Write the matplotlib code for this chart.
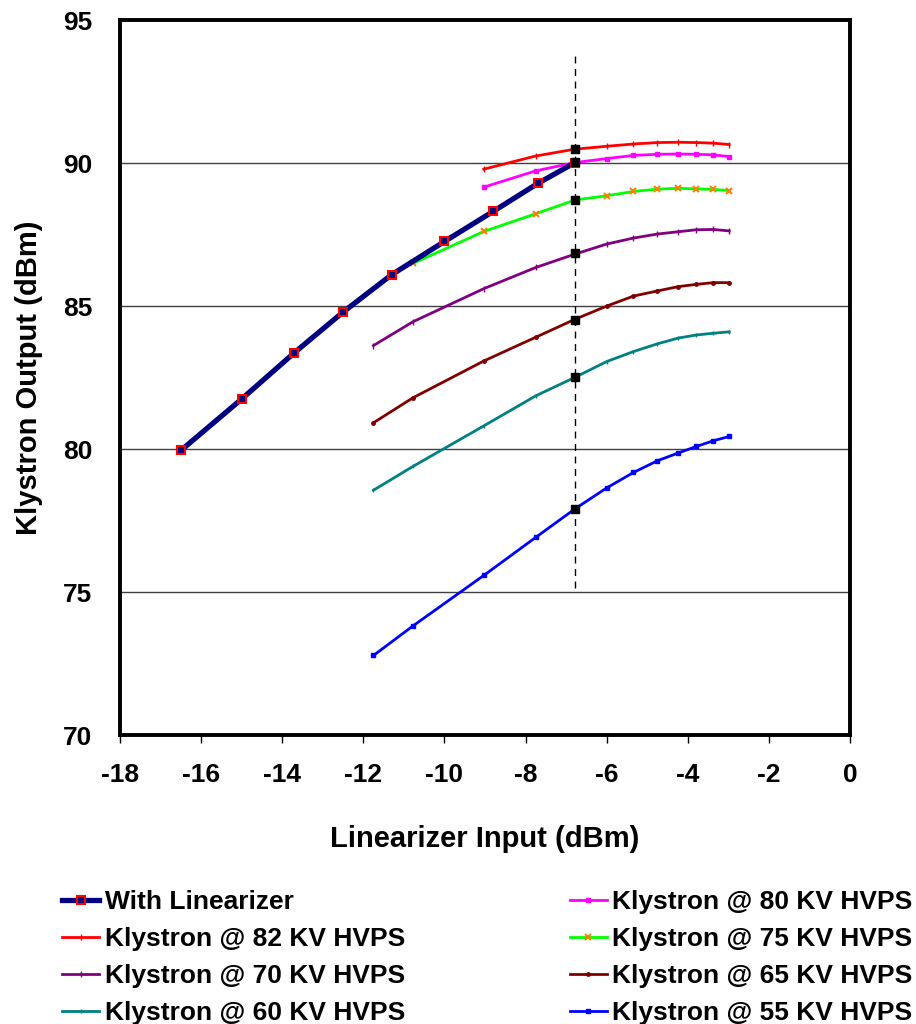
import matplotlib
matplotlib.use("Agg")
import matplotlib.pyplot as plt

plt.rcParams['font.family'] = ['Liberation Sans', 'DejaVu Sans']
plt.rcParams['font.weight'] = 'bold'
plt.rcParams['axes.unicode_minus'] = False

# with linearizer
lin_x = [-16.5, -15.0, -13.7, -12.5, -11.3, -10.0, -8.8, -7.7, -6.78]
lin_y = [79.96, 81.76, 83.38, 84.80, 86.11, 87.27, 88.32, 89.30, 90.03]

# klystron curves at various HVPS voltages
x_short = [-9.03, -7.75, -6.78, -6.0, -5.34, -4.75, -4.24, -3.79, -3.37, -2.98]
x_mid = [-10.78] + x_short
x_long = [-11.75] + x_mid

k82 = [89.80, 90.26, 90.50, 90.60, 90.68, 90.73, 90.74, 90.73, 90.71, 90.66]
k80 = [89.17, 89.74, 90.03, 90.17, 90.28, 90.32, 90.33, 90.32, 90.30, 90.24]
k75 = [86.50, 87.62, 88.24, 88.72, 88.87, 89.02, 89.10, 89.13, 89.11, 89.09, 89.05]
k70 = [83.63, 84.46, 85.62, 86.36, 86.83, 87.18, 87.39, 87.53, 87.61, 87.68, 87.69, 87.64]
k65 = [80.93, 81.80, 83.09, 83.92, 84.55, 85.01, 85.36, 85.54, 85.69, 85.77, 85.83, 85.83]
k60 = [78.57, 79.40, 80.82, 81.87, 82.52, 83.07, 83.42, 83.69, 83.89, 84.00, 84.06, 84.11]
k55 = [72.79, 73.82, 75.59, 76.92, 77.92, 78.65, 79.19, 79.60, 79.87, 80.10, 80.30, 80.45]

# operating point at -6.78 dBm input
op_x = -6.78
op_y = [90.5, 90.04, 88.72, 86.86, 84.52, 82.53, 77.93]
op_span = [75.15, 93.75]

fig = plt.figure(figsize=(9.16, 10.24), dpi=100)
ax = fig.add_axes([0.131, 0.282, 0.797, 0.698])

for yv in [75, 80, 85, 90]:
    ax.axhline(yv, color='#404040', lw=1.0, zorder=1)

h_lin, = ax.plot(lin_x, lin_y, color='#000080', lw=3.8, marker='s', ms=6,
                 mfc='#000080', mec='red', mew=1.5, label='With Linearizer', zorder=5)
h82, = ax.plot(x_short, k82, color='red', lw=2, marker='|', ms=4, label='Klystron @ 82 KV HVPS', zorder=3)
h80, = ax.plot(x_short, k80, color='#FF00FF', lw=2, marker='s', ms=3, label='Klystron @ 80 KV HVPS', zorder=3)
h75, = ax.plot(x_mid, k75, color='#00FF00', lw=2, marker='x', ms=4, mec='#FF8000', mew=1.5,
               label='Klystron @ 75 KV HVPS', zorder=3)
h70, = ax.plot(x_long, k70, color='#800080', lw=2, marker='|', ms=4, label='Klystron @ 70 KV HVPS', zorder=3)
h65, = ax.plot(x_long, k65, color='#800000', lw=2, marker='o', ms=2.5, label='Klystron @ 65 KV HVPS', zorder=3)
h60, = ax.plot(x_long, k60, color='#008080', lw=2, marker='|', ms=3, label='Klystron @ 60 KV HVPS', zorder=3)
h55, = ax.plot(x_long, k55, color='#0000FF', lw=2, marker='s', ms=2.5, label='Klystron @ 55 KV HVPS', zorder=3)

ax.plot([op_x, op_x], op_span, color='black', lw=1, dashes=(5, 4), zorder=4)
ax.plot([op_x] * len(op_y), op_y, ls='none', marker='s', ms=6, color='black', zorder=6)

ax.set_xlim(-18, 0)
ax.set_ylim(70, 95)
ax.set_xticks(range(-18, 1, 2))
ax.set_yticks(range(70, 96, 5))
for s in ax.spines.values():
    s.set_linewidth(2.8)
    s.set_color('black')
ax.tick_params(axis='x', direction='out', length=6, width=1, pad=14, labelsize=19)
ax.tick_params(axis='y', length=0, pad=20, labelsize=19)
for lbl in ax.get_xticklabels() + ax.get_yticklabels():
    lbl.set_fontweight('bold')

ax.set_xlabel('Linearizer Input (dBm)', fontsize=21, fontweight='bold', labelpad=27)
ax.set_ylabel('Klystron Output (dBm)', fontsize=21, fontweight='bold', labelpad=14)

handles = [h_lin, h82, h70, h60, h80, h75, h65, h55]
fig.legend(handles=handles, labels=[h.get_label() for h in handles], ncol=2,
           loc='upper left', bbox_to_anchor=(0.068, 0.131), frameon=False,
           prop={'size': 19, 'weight': 'bold'}, handlelength=1.4, handletextpad=0.2,
           columnspacing=6.25, labelspacing=0.5, borderaxespad=0, borderpad=0)

fig.savefig('out.png', dpi=100)
